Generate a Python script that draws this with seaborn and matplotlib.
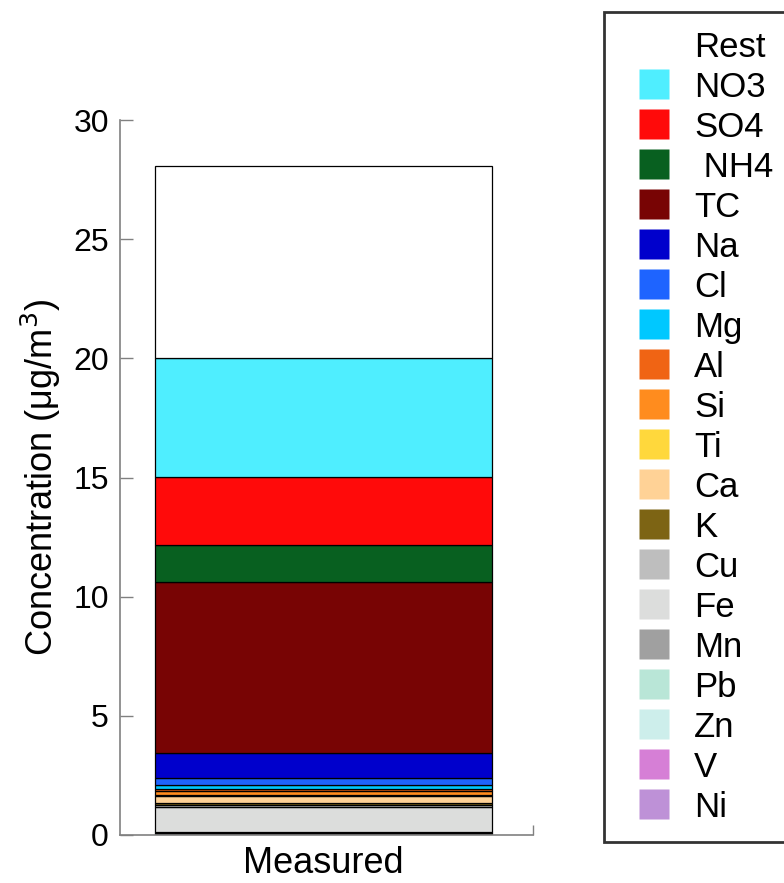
import matplotlib
matplotlib.use("Agg")
import matplotlib.pyplot as plt
from matplotlib.lines import Line2D
import pandas as pd
import seaborn as sns

# stacking order, bottom to top
components = ["Ni", "V", "Zn", "Pb", "Mn", "Fe", "Cu", "K", "Ca", "Ti",
              "Si", "Al", "Mg", "Cl", "Na", "TC", " NH4", "SO4", "NO3", "Rest"]
values = [0.01, 0.01, 0.05, 0.03, 0.03, 1.06, 0.06, 0.11, 0.28, 0.04,
          0.15, 0.11, 0.14, 0.32, 1.05, 7.17, 1.55, 2.85, 5.00, 8.05]
colors = ["#BE91D7", "#D67FD6", "#CDEEEB", "#B9E6D7", "#A0A0A0", "#DCDDDC",
          "#BEBEBE", "#7D6414", "#FFD296", "#FFD83C", "#FF8C1E", "#F06414",
          "#00C8FF", "#1E64FF", "#0000CC", "#780404", "#086020", "#FF0A0A",
          "#4FEEFF", "#FFFFFF"]
sample = "Measured"

sns.set_style("ticks")
plt.rcParams["font.family"] = ["Liberation Sans", "DejaVu Sans"]
plt.rcParams["text.color"] = "black"
plt.rcParams["axes.labelcolor"] = "black"
plt.rcParams["xtick.color"] = "black"
plt.rcParams["ytick.color"] = "black"

fig = plt.figure(figsize=(7.84, 8.83), dpi=100)
ax = fig.add_axes([0.153, 0.0544, 0.527, 0.8096])

bottom = 0.0
for comp, val, col in zip(components, values, colors):
    df = pd.DataFrame({"sample": [sample], "value": [val]})
    sns.barplot(data=df, x="sample", y="value", color=col, saturation=1,
                width=0.816, bottom=bottom, edgecolor="black", linewidth=0.9,
                errorbar=None, ax=ax)
    bottom += val

ax.set_xlim(-0.493, 0.507)
ax.set_ylim(0, 30)
ax.set_yticks([0, 5, 10, 15, 20, 25, 30])
ax.set_xticks([0.506], minor=True)
ax.set_xlabel("")
ax.set_ylabel("Concentration (\u03bcg/m$^3$)", fontsize=26, labelpad=7)
ax.tick_params(axis="y", direction="in", length=9.5, width=1, color="#808080",
               labelsize=23, pad=8)
ax.tick_params(axis="x", length=0, labelsize=26, pad=8)
ax.tick_params(axis="x", which="minor", direction="in", length=7, width=1,
               color="#808080")
for side in ["top", "right"]:
    ax.spines[side].set_visible(False)
for side in ["left", "bottom"]:
    ax.spines[side].set_color("#808080")
    ax.spines[side].set_linewidth(1.2)

handles = []
for comp, col in zip(components[::-1], colors[::-1]):
    mk_col = "none" if comp == "Rest" else col
    handles.append(Line2D([], [], linestyle="none", marker="s", markersize=22.3,
                          markerfacecolor=mk_col, markeredgecolor="none", label=comp))
leg = fig.legend(handles=handles, loc="upper left", bbox_to_anchor=(0.770, 0.986),
                 fontsize=25, frameon=True, fancybox=False, edgecolor="black",
                 handlelength=1.83, handleheight=0.9, handletextpad=0.24,
                 labelspacing=0.19, borderpad=0.53, borderaxespad=0)
leg.get_frame().set_linewidth(2)

fig.savefig("out.png", dpi=100)
